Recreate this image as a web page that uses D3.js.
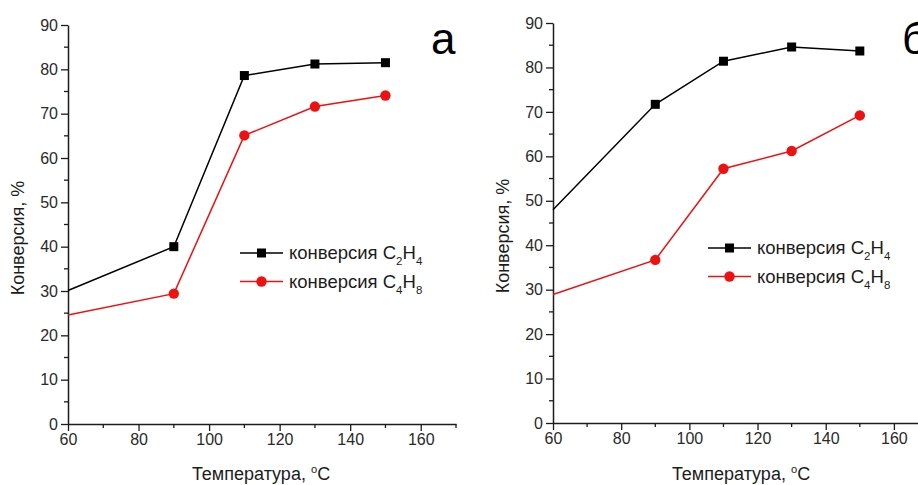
<!DOCTYPE html>
<html>
<head>
<meta charset="utf-8">
<script src="https://cdn.jsdelivr.net/npm/d3@7"></script>
<style>
  html, body { margin: 0; padding: 0; background: #fff; }
  svg { display: block; font-family: "Liberation Sans", Arial, sans-serif; }
</style>
</head>
<body>
<svg id="chart" width="918" height="485"></svg>
<script>
// ---- data ----
const temperatures = [60, 90, 110, 130, 150];
const panelA_C2H4 = [30.1, 40.0, 78.6, 81.2, 81.5];
const panelA_C4H8 = [24.6, 29.4, 65.1, 71.6, 74.1];
const panelB_C2H4 = [48.0, 71.7, 81.4, 84.6, 83.7];
const panelB_C4H8 = [28.9, 36.7, 57.2, 61.2, 69.2];
const xTickValues = [60, 80, 100, 120, 140, 160];
const yTickValues = [0, 10, 20, 30, 40, 50, 60, 70, 80, 90];
const panelLetters = ["а", "б"];
const yTitle = "Конверсия, %";
const xTitleMain = "Температура, ";
const xTitleUnit = "C";

const svg = d3.select("#chart");
const ink = "#1c1c1c";

const panels = [
  { letter: panelLetters[0], s1: panelA_C2H4, s2: panelA_C4H8,
    x0: 68, x1: 456, y0: 424, y1: 25,
    letterPos: [431, 54], legend: [240, 253], yTitlePos: [24, 238], xTitlePos: [261, 480] },
  { letter: panelLetters[1], s1: panelB_C2H4, s2: panelB_C4H8,
    x0: 553, x1: 928, y0: 423, y1: 23,
    letterPos: [902, 54], legend: [708, 248], yTitlePos: [509, 236], xTitlePos: [741, 480] }
];

function subscriptText(sel, base, a, sa, b, sb) {
  sel.append("tspan").text(base + a);
  sel.append("tspan").attr("font-size", "0.62em").attr("dy", 6).text(sa);
  sel.append("tspan").attr("dy", -6).text(b);
  sel.append("tspan").attr("font-size", "0.62em").attr("dy", 6).text(sb);
}

panels.forEach(p => {
  const g = svg.append("g");
  const x = d3.scaleLinear().domain([60, 170]).range([p.x0, p.x1]);
  const y = d3.scaleLinear().domain([0, 90]).range([p.y0, p.y1]);

  // minor ticks
  const xMinor = d3.range(70, 171, 20);
  const yMinor = d3.range(5, 90, 10);
  g.append("g").selectAll("line").data(xMinor).join("line")
    .attr("x1", d => x(d)).attr("x2", d => x(d))
    .attr("y1", p.y0).attr("y2", p.y0 + 4)
    .attr("stroke", ink).attr("stroke-width", 1.3);
  g.append("g").selectAll("line").data(yMinor).join("line")
    .attr("y1", d => y(d)).attr("y2", d => y(d))
    .attr("x1", p.x0).attr("x2", p.x0 - 4)
    .attr("stroke", ink).attr("stroke-width", 1.3);

  // axes
  const xAxis = d3.axisBottom(x).tickValues(xTickValues).tickSize(7).tickSizeOuter(0).tickPadding(3);
  const yAxis = d3.axisLeft(y).tickValues(yTickValues).tickSize(7).tickSizeOuter(0).tickPadding(3);
  const gx = g.append("g").attr("transform", `translate(0,${p.y0})`).call(xAxis);
  const gy = g.append("g").attr("transform", `translate(${p.x0},0)`).call(yAxis);
  [gx, gy].forEach(a => {
    a.select(".domain").attr("stroke", ink).attr("stroke-width", 1.5);
    a.selectAll(".tick line").attr("stroke", ink).attr("stroke-width", 1.3);
    a.selectAll(".tick text").attr("fill", "#2a2a2a").attr("font-size", 16)
      .attr("font-family", "Liberation Sans, Arial, sans-serif");
  });

  // lines
  const line = d3.line().x((d, i) => x(temperatures[i])).y(d => y(d));
  g.append("path").datum(p.s1).attr("d", line)
    .attr("fill", "none").attr("stroke", "#000").attr("stroke-width", 1.5);
  g.append("path").datum(p.s2).attr("d", line)
    .attr("fill", "none").attr("stroke", "#ee1111").attr("stroke-width", 1.5);

  // markers (first point sits on the axis and has no visible symbol)
  const pts1 = p.s1.map((v, i) => [temperatures[i], v]).filter(d => d[0] > 60);
  const pts2 = p.s2.map((v, i) => [temperatures[i], v]).filter(d => d[0] > 60);
  g.append("g").selectAll("rect").data(pts1).join("rect")
    .attr("x", d => x(d[0]) - 4.5).attr("y", d => y(d[1]) - 4.5)
    .attr("width", 9).attr("height", 9).attr("fill", "#000");
  g.append("g").selectAll("circle").data(pts2).join("circle")
    .attr("cx", d => x(d[0])).attr("cy", d => y(d[1])).attr("r", 5.2)
    .attr("fill", "#ee1111");

  // axis titles
  g.append("text").attr("transform", `translate(${p.yTitlePos[0]},${p.yTitlePos[1]}) rotate(-90)`)
    .attr("text-anchor", "middle").attr("font-size", 18).attr("fill", ink).text(yTitle);
  const xt = g.append("text").attr("x", p.xTitlePos[0]).attr("y", p.xTitlePos[1])
    .attr("text-anchor", "middle").attr("font-size", 18).attr("fill", ink);
  xt.append("tspan").text(xTitleMain);
  xt.append("tspan").attr("font-size", "0.62em").attr("dy", -7).text("o");
  xt.append("tspan").attr("dy", 7).text(xTitleUnit);

  // panel letter
  g.append("text").attr("x", p.letterPos[0]).attr("y", p.letterPos[1])
    .attr("font-size", 44).attr("fill", "#000").text(p.letter);

  // legend
  const [lx, ly] = p.legend;
  const rowGap = 28.5;
  const colors = ["#000", "#ee1111"];
  [0, 1].forEach(k => {
    const yy = ly + k * rowGap;
    g.append("line").attr("x1", lx).attr("x2", lx + 43).attr("y1", yy).attr("y2", yy)
      .attr("stroke", colors[k]).attr("stroke-width", 1.5);
    if (k === 0) {
      g.append("rect").attr("x", lx + 21.5 - 4.5).attr("y", yy - 4.5).attr("width", 9).attr("height", 9).attr("fill", colors[k]);
    } else {
      g.append("circle").attr("cx", lx + 21.5).attr("cy", yy).attr("r", 5.2).attr("fill", colors[k]);
    }
    const t = g.append("text").attr("x", lx + 49).attr("y", yy + 6)
      .attr("font-size", 18.5).attr("fill", ink);
    if (k === 0) subscriptText(t, "конверсия ", "C", "2", "H", "4");
    else subscriptText(t, "конверсия ", "C", "4", "H", "8");
  });
});
</script>
</body>
</html>
